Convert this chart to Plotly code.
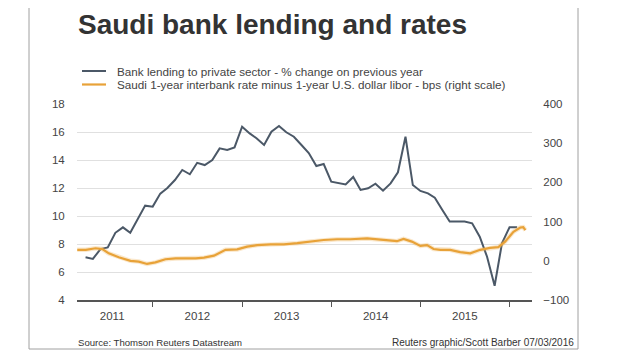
import pandas as pd
import plotly.graph_objects as go

# ---- data ----
lending_start = "2011-03-31"
lending = [
    7.05, 6.93, 7.64, 7.76, 8.8, 9.19, 8.8, 9.79, 10.74, 10.67,               # 2011 Mar-Dec
    11.6, 12.0, 12.57, 13.29, 12.98, 13.8, 13.64, 14.0, 14.83, 14.71, 14.9, 16.38,  # 2012
    15.9, 15.55, 15.07, 16.02, 16.43, 15.98, 15.66, 15.07, 14.5, 13.57, 13.71, 12.45,  # 2013
    12.33, 12.26, 12.79, 11.86, 11.98, 12.31, 11.81, 12.33, 13.12, 15.66, 12.21, 11.79,  # 2014
    11.62, 11.31, 10.43, 9.6, 9.6, 9.6, 9.48, 8.52, 7.09, 5.02, 8.05, 9.2,   # 2015
    9.2,                                                                      # 2016 Jan
]
lending_dates = pd.date_range(lending_start, periods=len(lending), freq="ME")

spread_dates = [
    "2011-02-25", "2011-04-01", "2011-05-11", "2011-06-08", "2011-07-04", "2011-08-14",
    "2011-10-01", "2011-11-04", "2011-12-08", "2012-01-11", "2012-02-21", "2012-04-03",
    "2012-05-14", "2012-06-24", "2012-07-28", "2012-09-07", "2012-10-24", "2012-12-11",
    "2013-01-21", "2013-03-03", "2013-04-27", "2013-06-20", "2013-08-14", "2013-10-07",
    "2013-11-30", "2014-01-24", "2014-03-19", "2014-05-27", "2014-08-03", "2014-09-26",
    "2014-10-23", "2014-11-26", "2014-12-31", "2015-01-27", "2015-02-23", "2015-03-23",
    "2015-05-02", "2015-06-12", "2015-07-23", "2015-09-02", "2015-10-12", "2015-11-15",
    "2015-12-13", "2016-01-16", "2016-02-13", "2016-02-25", "2016-03-05",
]
spread = [
    28, 28, 32, 30, 19, 9,
    0, -2, -8, -4, 4, 6,
    6, 6, 8, 13, 28, 29,
    36, 40, 42, 42, 45, 49,
    53, 55, 55, 57, 53, 50,
    56, 49, 38, 40, 30, 28,
    28, 22, 19, 28, 33, 35,
    49, 74, 85, 86, 78,
]

year_labels = ["2011", "2012", "2013", "2014", "2015"]
year_label_pos = ["2011-07-18", "2012-07-01", "2013-07-01", "2014-07-01", "2015-07-01"]
year_bounds = ["2012-01-01", "2013-01-01", "2014-01-01", "2015-01-01", "2016-01-01"]

title = "Saudi bank lending and rates"
legend_labels = [
    "Bank lending to private sector - % change on previous year",
    "Saudi 1-year interbank rate minus 1-year U.S. dollar libor - bps (right scale)",
]
source_text = "Source: Thomson Reuters Datastream"
credit_text = "Reuters graphic/Scott Barber 07/03/2016"

# ---- style / layout ----
W, H = 620, 355
OFF = 8  # page body margin offset
# plot area in page pixels (as seen in the screenshot)
PL, PR, PT, PB = 77, 532, 104, 300
ML, MR, MT, MB = PL - OFF, W - (PR - OFF), PT - OFF, H - (PB - OFF)
BLUE = "#4b5867"
ORANGE = "#e8a238"
FONT = "Arial, Liberation Sans, sans-serif"
TITLE_FONT = "Arial, Liberation Sans, sans-serif"


def px(x):
    return (x - PL) / (PR - PL)


def py(y):
    return (PB - y) / (PB - PT)


fig = go.Figure()
fig.add_trace(go.Scatter(x=spread_dates, y=spread, mode="lines", yaxis="y2",
                         line=dict(color="rgba(240,180,90,0.3)", width=4.5),
                         hoverinfo="skip", showlegend=False))
fig.add_trace(go.Scatter(x=spread_dates, y=spread, mode="lines", yaxis="y2",
                         line=dict(color=ORANGE, width=2.2), name=legend_labels[1],
                         showlegend=False))
fig.add_trace(go.Scatter(x=lending_dates, y=lending, mode="lines",
                         line=dict(color=BLUE, width=2), name=legend_labels[0],
                         showlegend=False))

fig.update_layout(
    width=W, height=H,
    margin=dict(l=ML, r=MR, t=MT, b=MB, pad=0),
    paper_bgcolor="white", plot_bgcolor="white",
    font=dict(family=FONT, size=11.5, color="#444"),
    xaxis=dict(
        type="date", range=["2011-02-24", "2016-04-01"],
        tickmode="array", tickvals=year_label_pos, ticktext=year_labels,
        ticks="outside", ticklen=4, tickcolor="rgba(0,0,0,0)",
        showgrid=False, zeroline=False,
        showline=True, linecolor="#555", linewidth=1.5,
        minor=dict(tickmode="array", tickvals=year_bounds, ticks="outside",
                   ticklen=5, tickcolor="#555", tickwidth=1, showgrid=False),
        tickfont=dict(size=11.5, color="#444"),
    ),
    yaxis=dict(
        range=[4, 18], dtick=2, tick0=4,
        showgrid=True, gridcolor="#e0e0e0", gridwidth=1, zeroline=False,
        ticks="outside", ticklen=9, tickcolor="rgba(0,0,0,0)",
        tickfont=dict(size=11.5, color="#444"),
    ),
    yaxis2=dict(
        range=[-100, 400], dtick=100, tick0=-100, overlaying="y", side="right",
        showgrid=False, zeroline=False,
        ticks="outside", ticklen=8, tickcolor="rgba(0,0,0,0)",
        tickfont=dict(size=11.5, color="#444"),
    ),
)

shapes = [
    dict(type="rect", xref="paper", yref="paper", x0=px(29), x1=px(578), y0=py(4), y1=py(349),
         line=dict(color="#a0a0a0", width=1), fillcolor="rgba(0,0,0,0)", layer="below"),
    dict(type="line", xref="paper", yref="paper", x0=px(82), x1=px(106), y0=py(71), y1=py(71),
         line=dict(color=BLUE, width=2)),
    dict(type="line", xref="paper", yref="paper", x0=px(82), x1=px(106), y0=py(84.5), y1=py(84.5),
         line=dict(color=ORANGE, width=2.2)),
]
fig.update_layout(shapes=shapes)

annotations = [
    dict(text=title, x=px(76), y=py(24), xanchor="left", yanchor="middle",
         font=dict(size=28, color="#333", family=TITLE_FONT, weight="bold")),
    dict(text=legend_labels[0], x=px(115), y=py(71), xanchor="left", yanchor="middle",
         font=dict(size=11.7, color="#444")),
    dict(text=legend_labels[1], x=px(115), y=py(84.5), xanchor="left", yanchor="middle",
         font=dict(size=11.7, color="#444")),
    dict(text=source_text, x=px(76), y=py(342), xanchor="left", yanchor="middle",
         font=dict(size=9.6, color="#333")),
    dict(text=credit_text, x=px(576), y=py(342), xanchor="right", yanchor="middle",
         font=dict(size=10, color="#333")),
]
for a in annotations:
    a.update(xref="paper", yref="paper", showarrow=False)
fig.update_layout(annotations=annotations)

fig.write_html("out.html")
